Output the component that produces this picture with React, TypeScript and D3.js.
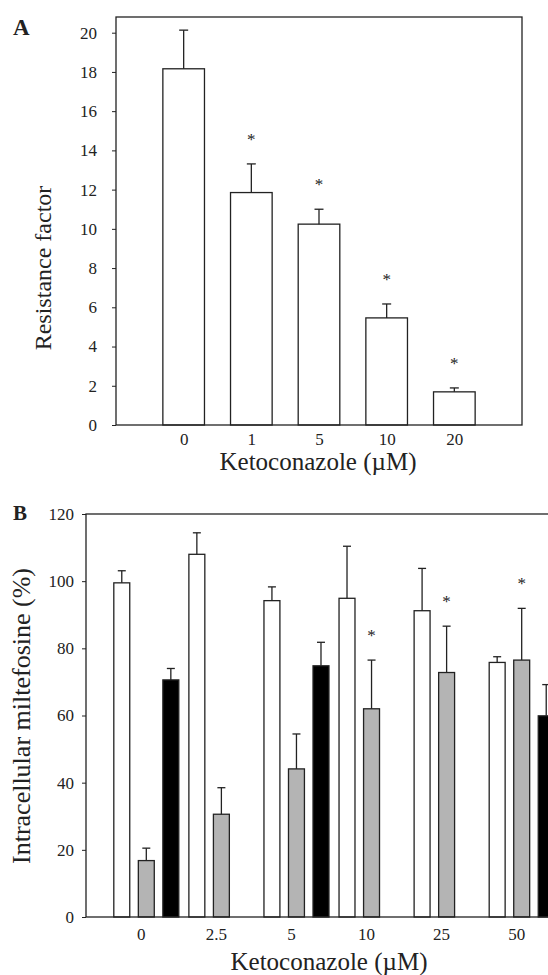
import React, { useRef, useEffect } from 'react';
import * as d3 from 'd3';

// panel A: resistance factor vs ketoconazole
const concA = ['0', '1', '5', '10', '20'];
const rfMean = [18.16, 11.85, 10.24, 5.46, 1.69];
const rfErr = [1.97, 1.46, 0.76, 0.71, 0.2];
const rfSig = [false, true, true, true, true];
const rfTicks = [0, 2, 4, 6, 8, 10, 12, 14, 16, 18, 20];

// panel B: intracellular miltefosine, three series per concentration
const concB = ['0', '2.5', '5', '10', '25', '50'];
const seriesB = ['open', 'grey', 'solid'];
const openMean = [99.5, 108.0, 94.2, 94.9, 91.2, 75.8];
const openErr = [3.6, 6.4, 4.1, 15.5, 12.6, 1.7];
const greyMean = [16.8, 30.6, 44.1, 62.0, 72.8, 76.5];
const greyErr = [3.7, 7.9, 10.4, 14.5, 13.8, 15.4];
const greySig = [false, false, false, true, true, true];
const solidMean = [70.6, null, 74.8, null, null, 59.9];
const solidErr = [3.4, null, 7.0, null, null, 9.3];
const mTicks = [0, 20, 40, 60, 80, 100, 120];

const seriesFill = { open: '#ffffff', grey: '#b4b4b4', solid: '#000000' };

const W = 548;
const H = 975;
const ink = '#222';
const serif = '"Liberation Serif", "Times New Roman", serif';

function App() {
  const svgRef = useRef(null);

  useEffect(() => {
    const svg = d3.select(svgRef.current);
    svg.selectAll('*').remove();

    // ---------- panel A ----------
    const xA = d3.scalePoint().domain(concA).range([116, 522]).padding(1);
    const yA = d3.scaleLinear().domain([0, 20.8]).range([425, 17]);
    const bwA = xA.step() * 0.615;
    const dataA = concA.map((c, i) => ({ c, v: rfMean[i], e: rfErr[i], sig: rfSig[i] }));

    const gA = svg.append('g');

    gA.append('g')
      .attr('transform', `translate(116,0)`)
      .call(d3.axisLeft(yA).tickValues(rfTicks).tickSize(4).tickPadding(15))
      .call(g => g.select('.domain').remove())
      .call(g => g.selectAll('line').attr('stroke', ink))
      .call(g => g.selectAll('text').attr('fill', ink).style('font', `17px ${serif}`));

    gA.append('g')
      .attr('transform', `translate(0,425)`)
      .call(d3.axisBottom(xA).tickSize(0).tickPadding(8))
      .call(g => g.select('.domain').remove())
      .call(g => g.selectAll('text').attr('fill', ink).style('font', `17px ${serif}`));

    gA.selectAll('.bar')
      .data(dataA)
      .enter().append('rect')
      .attr('class', 'bar')
      .attr('x', d => xA(d.c) - bwA / 2)
      .attr('y', d => yA(d.v))
      .attr('width', bwA)
      .attr('height', d => yA(0) - yA(d.v))
      .attr('fill', '#fff')
      .attr('stroke', ink)
      .attr('stroke-width', 1.3);

    const errA = gA.selectAll('.err').data(dataA).enter().append('g').attr('class', 'err');
    errA.append('line')
      .attr('x1', d => xA(d.c)).attr('x2', d => xA(d.c))
      .attr('y1', d => yA(d.v)).attr('y2', d => yA(d.v + d.e))
      .attr('stroke', ink).attr('stroke-width', 1.3);
    errA.append('line')
      .attr('x1', d => xA(d.c) - 4.5).attr('x2', d => xA(d.c) + 4.5)
      .attr('y1', d => yA(d.v + d.e)).attr('y2', d => yA(d.v + d.e))
      .attr('stroke', ink).attr('stroke-width', 1.3);

    gA.selectAll('.star')
      .data(dataA.filter(d => d.sig))
      .enter().append('text')
      .attr('x', d => xA(d.c))
      .attr('y', d => yA(d.v + d.e) - 19)
      .attr('text-anchor', 'middle')
      .attr('fill', ink)
      .style('font', `17px ${serif}`)
      .text('*');

    // frame
    gA.append('rect')
      .attr('x', 116).attr('y', 17)
      .attr('width', 406).attr('height', 408)
      .attr('fill', 'none').attr('stroke', ink).attr('stroke-width', 1.3);

    gA.append('text')
      .attr('x', 318).attr('y', 470)
      .attr('text-anchor', 'middle')
      .attr('fill', ink)
      .style('font', `25px ${serif}`)
      .text('Ketoconazole (\u00b5M)');

    gA.append('text')
      .attr('transform', 'translate(51,268) rotate(-90)')
      .attr('text-anchor', 'middle')
      .attr('fill', ink)
      .style('font', `24px ${serif}`)
      .text('Resistance factor');

    gA.append('text')
      .attr('x', 13).attr('y', 35)
      .attr('fill', ink)
      .style('font', `bold 23px ${serif}`)
      .text('A');

    // ---------- panel B ----------
    const xB = d3.scalePoint().domain(concB).range([86, 571]).padding(0.73);
    const xSub = d3.scaleBand().domain(seriesB).range([-27, 38]).paddingInner(0.35);
    const yB = d3.scaleLinear().domain([0, 120]).range([917, 514]);

    const dataB = [];
    concB.forEach((c, i) => {
      dataB.push({ c, s: 'open', v: openMean[i], e: openErr[i], sig: false });
      dataB.push({ c, s: 'grey', v: greyMean[i], e: greyErr[i], sig: greySig[i] });
      if (solidMean[i] != null) dataB.push({ c, s: 'solid', v: solidMean[i], e: solidErr[i], sig: false });
    });
    const cx = d => xB(d.c) + xSub(d.s) + xSub.bandwidth() / 2;

    const gB = svg.append('g');

    gB.append('g')
      .attr('transform', `translate(86,0)`)
      .call(d3.axisLeft(yB).tickValues(mTicks).tickSize(4).tickPadding(8))
      .call(g => g.select('.domain').remove())
      .call(g => g.selectAll('line').attr('stroke', ink))
      .call(g => g.selectAll('text').attr('fill', ink).style('font', `17px ${serif}`));

    gB.append('g')
      .attr('transform', `translate(0,917)`)
      .call(d3.axisBottom(xB).tickSize(0).tickPadding(11))
      .call(g => g.select('.domain').remove())
      .call(g => g.selectAll('text').attr('fill', ink).style('font', `17px ${serif}`));

    gB.selectAll('.bar')
      .data(dataB)
      .enter().append('rect')
      .attr('class', 'bar')
      .attr('x', d => xB(d.c) + xSub(d.s))
      .attr('y', d => yB(d.v))
      .attr('width', xSub.bandwidth())
      .attr('height', d => yB(0) - yB(d.v))
      .attr('fill', d => seriesFill[d.s])
      .attr('stroke', ink)
      .attr('stroke-width', 1.3);

    const errB = gB.selectAll('.err').data(dataB).enter().append('g').attr('class', 'err');
    errB.append('line')
      .attr('x1', cx).attr('x2', cx)
      .attr('y1', d => yB(d.v)).attr('y2', d => yB(d.v + d.e))
      .attr('stroke', ink).attr('stroke-width', 1.3);
    errB.append('line')
      .attr('x1', d => cx(d) - 4).attr('x2', d => cx(d) + 4)
      .attr('y1', d => yB(d.v + d.e)).attr('y2', d => yB(d.v + d.e))
      .attr('stroke', ink).attr('stroke-width', 1.3);

    gB.selectAll('.star')
      .data(dataB.filter(d => d.sig))
      .enter().append('text')
      .attr('x', cx)
      .attr('y', d => yB(d.v + d.e) - 19)
      .attr('text-anchor', 'middle')
      .attr('fill', ink)
      .style('font', `17px ${serif}`)
      .text('*');

    gB.append('rect')
      .attr('x', 86).attr('y', 514)
      .attr('width', 485).attr('height', 403)
      .attr('fill', 'none').attr('stroke', ink).attr('stroke-width', 1.3);

    gB.append('text')
      .attr('x', 329).attr('y', 970)
      .attr('text-anchor', 'middle')
      .attr('fill', ink)
      .style('font', `25px ${serif}`)
      .text('Ketoconazole (\u00b5M)');

    gB.append('text')
      .attr('transform', 'translate(30,716) rotate(-90)')
      .attr('text-anchor', 'middle')
      .attr('fill', ink)
      .style('font', `26px ${serif}`)
      .text('Intracellular miltefosine (%)');

    gB.append('text')
      .attr('x', 13).attr('y', 520)
      .attr('fill', ink)
      .style('font', `bold 21px ${serif}`)
      .text('B');
  }, []);

  return (
    <svg
      ref={svgRef}
      width={W}
      height={H}
      style={{ position: 'absolute', left: 0, top: 0, background: '#fff', display: 'block' }}
    />
  );
}

export default App;
